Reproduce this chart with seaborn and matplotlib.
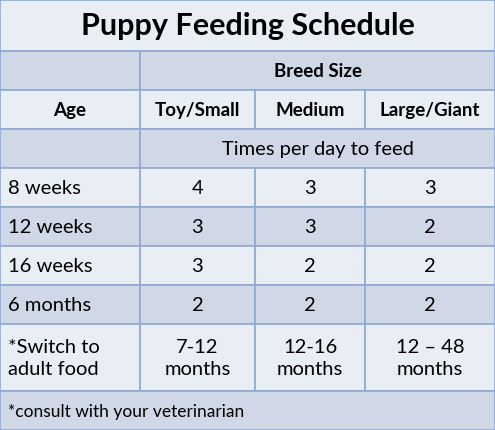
import matplotlib
matplotlib.use('Agg')
import matplotlib.pyplot as plt
from matplotlib.patches import Rectangle
import seaborn as sns

sns.set_theme(style='white')
plt.rcParams['font.family'] = ['Lato', 'DejaVu Sans']

title = 'Puppy Feeding Schedule'
breed_sizes = ['Toy/Small', 'Medium', 'Large/Giant']
ages = ['8 weeks', '12 weeks', '16 weeks', '6 months']
feeds_per_day = [[4, 3, 3], [3, 3, 2], [3, 2, 2], [2, 2, 2]]
switch_label = '*Switch to\nadult food'
switch_ages = ['7-12\nmonths', '12-16\nmonths', '12 \u2013 48\nmonths']
footnote = '*consult with your veterinarian'

# layout in pixels
col_x = [0, 140, 255, 365, 495]
row_y = [0, 51, 90, 129, 168, 207, 246, 285, 324, 391, 430]
light, dark, line = '#E9EDF4', '#D0D8E8', '#8FAAD3'

fig = plt.figure(figsize=(4.95, 4.30), dpi=100)
ax = fig.add_axes([0, 0, 1, 1])
ax.set_xlim(0, 495)
ax.set_ylim(430, 0)
ax.axis('off')

def cell(x0, x1, y0, y1, color, text='', bold=False, size=14.5, ha='center'):
    ax.add_patch(Rectangle((x0, y0), x1 - x0, y1 - y0, facecolor=color,
                           edgecolor=line, linewidth=1.2))
    if text:
        tx = (x0 + x1) / 2 if ha == 'center' else x0 + 8
        ax.text(tx, (y0 + y1) / 2 + 1, text, ha=ha, va='center', fontsize=size,
                fontweight='bold' if bold else 'normal', color='black',
                linespacing=1.3)

W = col_x[-1]
cell(0, W, row_y[0], row_y[1], light, title, bold=True, size=22)
cell(0, col_x[1], row_y[1], row_y[2], dark)
cell(col_x[1], W, row_y[1], row_y[2], dark, 'Breed Size', bold=True, size=13.5)
cell(0, col_x[1], row_y[2], row_y[3], light, 'Age', bold=True, size=13.5)
for j, b in enumerate(breed_sizes):
    cell(col_x[j + 1], col_x[j + 2], row_y[2], row_y[3], light, b, bold=True, size=13.5)
cell(0, col_x[1], row_y[3], row_y[4], dark)
cell(col_x[1], W, row_y[3], row_y[4], dark, 'Times per day to feed')
for i, a in enumerate(ages):
    c = light if i % 2 == 0 else dark
    y0, y1 = row_y[4 + i], row_y[5 + i]
    cell(0, col_x[1], y0, y1, c, a, ha='left')
    for j in range(3):
        cell(col_x[j + 1], col_x[j + 2], y0, y1, c, str(feeds_per_day[i][j]))
cell(0, col_x[1], row_y[8], row_y[9], light, switch_label, ha='left')
for j, s in enumerate(switch_ages):
    cell(col_x[j + 1], col_x[j + 2], row_y[8], row_y[9], light, s)
cell(0, W, row_y[9], row_y[10], dark, footnote, size=12.5, ha='left')

fig.savefig('out.png', dpi=100)
